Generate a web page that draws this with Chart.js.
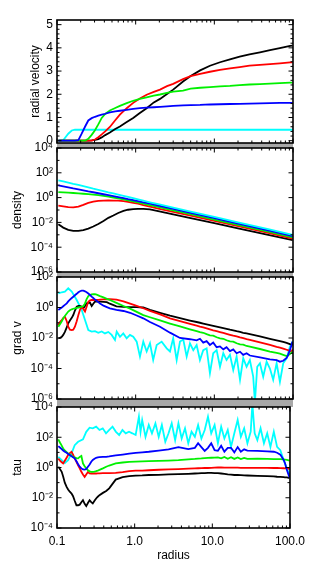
<!DOCTYPE html>
<html>
<head>
<meta charset="utf-8">
<script src="https://cdn.jsdelivr.net/npm/chart.js@4.4.1/dist/chart.umd.min.js"></script>
<style>
  body { margin: 0; background: #fff; }
  #wrap { position: relative; width: 311px; height: 568px; }
  canvas { position: absolute; left: 0; }
</style>
</head>
<body>
<div id="wrap">
  <canvas id="c1" width="311" height="160" style="top:0px"></canvas>
  <canvas id="c2" width="311" height="160" style="top:128px"></canvas>
  <canvas id="c3" width="311" height="160" style="top:257px"></canvas>
  <canvas id="c4" width="311" height="181" style="top:387px"></canvas>
</div>
<script>
// ---- data ----

// radial velocity panel
var velR = [0.104, 0.12, 0.139, 0.154, 0.169, 0.187, 0.206, 0.227, 0.25, 0.276,
  0.304, 0.335, 0.37, 0.41, 0.47, 0.55, 0.63, 0.77, 0.93, 1.13,
  1.38, 1.7, 2.04, 2.5, 3.0, 4.0, 5.0, 6.6, 8.8, 11.8,
  15.8, 21, 28, 38, 51, 68, 92, 99];
var velBlack = [0, 0, 0, 0, 0, 0, 0, 0, 0, 0.01,
  0.03, 0.07, 0.14, 0.24, 0.35, 0.5, 0.61, 0.8, 0.98, 1.19,
  1.4, 1.65, 1.8, 2.01, 2.2, 2.55, 2.79, 3.03, 3.23, 3.38,
  3.5, 3.62, 3.72, 3.81, 3.9, 3.99, 4.08, 4.1];
var velRed = [0, 0, 0, 0, 0, 0, 0, 0, 0, 0,
  0.05, 0.15, 0.27, 0.4, 0.59, 0.88, 1.12, 1.4, 1.63, 1.82,
  1.98, 2.1, 2.2, 2.35, 2.45, 2.65, 2.78, 2.88, 2.97, 3.05,
  3.12, 3.17, 3.23, 3.27, 3.3, 3.33, 3.37, 3.37];
var velGreen = [0, 0, 0, 0, 0, 0, 0, 0, 0.08, 0.25,
  0.45, 0.7, 0.98, 1.15, 1.3, 1.41, 1.5, 1.62, 1.72, 1.8,
  1.87, 1.94, 1.99, 2.06, 2.11, 2.16, 2.24, 2.28, 2.31, 2.34,
  2.36, 2.39, 2.42, 2.44, 2.46, 2.48, 2.5, 2.5];
var velBlue = [0, 0, 0, 0, 0, 0.02, 0.3, 0.6, 0.87, 0.97,
  1.03, 1.08, 1.12, 1.16, 1.22, 1.26, 1.29, 1.33, 1.37, 1.4,
  1.42, 1.44, 1.46, 1.48, 1.5, 1.52, 1.53, 1.54, 1.56, 1.57,
  1.58, 1.59, 1.6, 1.61, 1.62, 1.63, 1.63, 1.63];
var velCyan = [0, 0.02, 0.3, 0.44, 0.48, 0.47, 0.47, 0.47, 0.47, 0.47,
  0.47, 0.47, 0.47, 0.47, 0.47, 0.47, 0.47, 0.47, 0.47, 0.47,
  0.47, 0.47, 0.47, 0.47, 0.47, 0.47, 0.47, 0.47, 0.47, 0.47,
  0.47, 0.47, 0.47, 0.47, 0.47, 0.47, 0.47, 0.47];

// density panel
var densR = [0.104, 0.12, 0.139, 0.161, 0.187, 0.216, 0.25, 0.289, 0.335, 0.39,
  0.45, 0.52, 0.6, 0.7, 0.8, 0.93, 1.07, 1.25, 1.52, 2,
  3, 5, 10, 20, 50, 99];
var densBlack = [0.0071, 0.0038, 0.0025, 0.0021, 0.0021, 0.0024, 0.0032, 0.0047, 0.0074, 0.0132,
  0.0234, 0.0363, 0.0575, 0.085, 0.105, 0.117, 0.123, 0.123, 0.112, 0.079,
  0.045, 0.0224, 0.0087, 0.0033, 0.00095, 0.00037];
var densRed = [0.23, 0.2, 0.17, 0.162, 0.19, 0.26, 0.37, 0.48, 0.55, 0.58,
  0.59, 0.58, 0.56, 0.51, 0.45, 0.38, 0.32, 0.25, 0.186, 0.126,
  0.071, 0.035, 0.0132, 0.005, 0.00135, 0.0005];
var densGreen = [2.75, 2.63, 2.51, 2.34, 2.19, 2.04, 1.91, 1.74, 1.58, 1.38,
  1.2, 1.02, 0.87, 0.72, 0.6, 0.5, 0.41, 0.33, 0.25, 0.17,
  0.095, 0.046, 0.017, 0.0063, 0.0017, 0.00063];
var densBlue = [9.8, 8.1, 6.8, 5.6, 4.7, 3.9, 3.2, 2.7, 2.24, 1.86,
  1.55, 1.29, 1.07, 0.89, 0.74, 0.62, 0.51, 0.42, 0.32, 0.22,
  0.123, 0.059, 0.0219, 0.0081, 0.0022, 0.00079];
var densCyan = [25, 20.4, 16.2, 12.9, 10.5, 8.3, 6.6, 5.25, 4.27, 3.39,
  2.69, 2.19, 1.74, 1.38, 1.12, 0.89, 0.71, 0.56, 0.42, 0.28,
  0.155, 0.074, 0.0275, 0.0102, 0.0027, 0.001];

// shared radius grid of the grad v and tau panels
var gridR = [0.104, 0.109, 0.115, 0.12, 0.126, 0.133, 0.139, 0.146, 0.154, 0.161,
  0.169, 0.178, 0.187, 0.196, 0.206, 0.216, 0.227, 0.238, 0.25, 0.263,
  0.276, 0.289, 0.304, 0.319, 0.335, 0.352, 0.39, 0.43, 0.47, 0.57,
  0.7, 0.85, 1.03, 1.25, 1.52, 2.04, 2.73, 3.66, 4.9, 5.96,
  6.56, 7.23, 7.98, 8.79, 9.68, 10.7, 11.8, 13.0, 14.3, 15.8,
  17.4, 19.2, 21.2, 23.3, 25.7, 28.3, 38, 50.9, 61.9, 68.2,
  75.1, 82.9, 86.1, 91.3, 96, 98.8];

// grad v panel
var gradBlack = [9.5e-3, 1.0e-2, 1.2e-2, 1.6e-2, 2.5e-2, 5.0e-2, 9.1e-2, 0.14, 0.21, 0.32,
  0.63, 1.12, 1.26, 1.26, 1.0, 0.89, 1.26, 1.86, 2.0, 2.04,
  1.26, 1.78, 2.4, 2.5, 2.4, 2.4, 2.34, 2.24, 1.78, 1.2,
  1.1, 1.07, 1.05, 1.0, 0.71, 0.45, 0.29, 0.2, 0.14, 0.112,
  0.1, 0.089, 0.079, 0.071, 0.063, 0.056, 0.05, 0.045, 0.04, 0.035,
  0.032, 0.028, 0.025, 0.022, 0.02, 0.018, 0.0126, 0.0089, 0.0071, 0.0063,
  0.0055, 0.0048, 0.0045, 0.004, 0.0035, 0.005];
var gradRed = [0.071, 0.112, 0.15, 0.2, 0.25, 0.126, 0.055, 0.035, 0.033, 0.035,
  0.055, 0.126, 0.32, 0.71, 1.12, 0.79, 0.54, 1.12, 2.4, 2.9,
  3.1, 3.16, 3.1, 3.1, 3.16, 3.24, 3.4, 3.47, 3.55, 3.31,
  2.51, 1.78, 1.26, 0.89, 0.6, 0.35, 0.195, 0.129, 0.085, 0.065,
  0.056, 0.049, 0.043, 0.037, 0.032, 0.028, 0.0245, 0.0214, 0.0186, 0.0162,
  0.0141, 0.0126, 0.011, 0.0098, 0.0085, 0.0076, 0.0051, 0.0035, 0.0026, 0.0023,
  0.002, 0.0017, 0.0016, 0.0014, 0.0013, 0.0018];
var gradGreen = [0.055, 0.079, 0.126, 0.195, 0.28, 0.4, 0.54, 0.66, 0.76, 0.83,
  0.89, 0.95, 1.0, 1.07, 1.12, 1.26, 1.86, 3.55, 5.6, 6.6,
  7.2, 7.6, 7.4, 6.9, 6.3, 5.6, 4.6, 3.7, 3.1, 2.0,
  1.26, 0.85, 0.52, 0.32, 0.23, 0.141, 0.089, 0.058, 0.037, 0.028,
  0.024, 0.022, 0.018, 0.015, 0.0141, 0.0112, 0.0095, 0.0089, 0.0071, 0.006,
  0.0058, 0.0045, 0.0038, 0.0037, 0.003, 0.0027, 0.0019, 0.0013, 0.00105, 0.00093,
  0.00079, 0.00066, 0.00071, 0.00089, 0.0011, 0.00126];
var gradBlue = [0.69, 0.83, 1.0, 1.2, 1.48, 1.86, 2.5, 3.3, 4.2, 5.1,
  6.3, 7.9, 10, 11.7, 12.6, 12.6, 11.5, 10, 8.3, 6.6,
  5.2, 4.2, 3.3, 2.75, 2.24, 1.86, 1.32, 1.07, 0.89, 0.71,
  0.59, 0.45, 0.3, 0.195, 0.112, 0.055, 0.0224, 0.01, 0.0083, 0.0071,
  0.0089, 0.005, 0.0063, 0.0035, 0.005, 0.0025, 0.0028, 0.0018, 0.0025, 0.0014,
  0.0018, 0.001, 0.00126, 0.00079, 0.001, 0.00071, 0.00054, 0.0004, 0.00035, 0.00028,
  0.00032, 0.0005, 0.00071, 0.0016, 0.0035, 0.0058];
var gradCyanR = [0.104, 0.115, 0.126, 0.139, 0.154, 0.178, 0.206, 0.227, 0.25, 0.276,
  0.304, 0.335, 0.37, 0.407, 0.449, 0.495, 0.546, 0.574, 0.632, 0.696,
  0.768, 0.846, 0.932, 1.03, 1.134, 1.25, 1.38, 1.52, 1.67, 1.85,
  2.14, 2.48, 2.73, 3.0, 3.32, 3.66, 4.03, 4.45, 4.9, 5.4,
  5.96, 6.56, 7.23, 7.98, 8.79, 9.68, 10.7, 11.8, 13.0, 14.3,
  15.8, 17.4, 19.2, 21.2, 23.3, 25.7, 28.3, 31.2, 32.8, 35.1,
  38.0, 41.8, 46.2, 50.9, 56.0, 61.9, 68.2, 75.1, 82.9, 91.3,
  98.8];
var gradCyan = [8.5, 10, 11, 18, 11, 3.1, 0.69, 0.15, 0.033, 0.026,
  0.028, 0.022, 0.027, 0.02, 0.025, 0.016, 0.0074, 0.026, 0.012, 0.02,
  0.0095, 0.016, 0.012, 0.0058, 0.0006, 0.0058, 0.0013, 0.0045, 0.00036, 0.0035,
  0.0058, 0.0021, 0.0013, 0.0095, 0.00036, 0.0058, 0.0079, 0.0006, 0.0045, 0.0016,
  0.0035, 0.00036, 0.0016, 0.0021, 4.9e-5, 0.001, 0.0016, 0.00013, 0.001, 0.00036,
  0.0008, 8e-5, 0.0006, 1.8e-5, 0.00047, 0.00013, 0.00036, 2.9e-5, 6.3e-7, 0.00013,
  0.00022, 2.9e-5, 0.00028, 0.0001, 1.8e-5, 0.00022, 1.35e-5, 0.00022, 0.00047, 0.0027,
  0.0058];

// tau panel
var tauBlack = [1.12, 0.79, 0.52, 0.25, 0.1, 0.052, 0.035, 0.025, 0.019, 0.0126,
  0.0063, 0.0032, 0.0032, 0.0035, 0.005, 0.0069, 0.004, 0.0028, 0.0045, 0.0069,
  0.0052, 0.0042, 0.0063, 0.0089, 0.0117, 0.0148, 0.021, 0.028, 0.042, 0.158,
  0.23, 0.27, 0.29, 0.3, 0.32, 0.33, 0.35, 0.36, 0.38, 0.4,
  0.41, 0.42, 0.43, 0.44, 0.44, 0.43, 0.42, 0.4, 0.38, 0.355,
  0.34, 0.32, 0.32, 0.31, 0.3, 0.295, 0.28, 0.27, 0.26, 0.245,
  0.24, 0.23, 0.224, 0.22, 0.21, 0.2];
var tauRed = [3.98, 2.82, 2.24, 1.86, 2.82, 4.47, 6.6, 8.9, 11, 7.1,
  3.98, 2.4, 1.41, 0.89, 0.52, 0.35, 0.24, 0.35, 0.5, 0.41,
  0.4, 0.4, 0.4, 0.4, 0.41, 0.41, 0.42, 0.43, 0.43, 0.44,
  0.5, 0.58, 0.62, 0.63, 0.66, 0.71, 0.76, 0.79, 0.83, 0.87,
  0.89, 0.91, 0.93, 0.93, 0.95, 0.98, 1.0, 1.0, 0.98, 0.98,
  0.98, 0.98, 0.98, 0.95, 0.95, 0.95, 0.95, 0.95, 0.93, 0.93,
  0.91, 0.89, 0.87, 0.87, 0.83, 0.79];
var tauGreen = [72, 45, 28, 18, 13.2, 10.5, 8.5, 7.1, 6.0, 5.1,
  4.6, 4.2, 4.0, 5.0, 5.8, 1.86, 1.2, 0.87, 0.66, 0.56,
  0.52, 0.51, 0.54, 0.58, 0.63, 0.69, 0.87, 1.12, 1.35, 1.86,
  2.14, 2.34, 2.45, 2.57, 2.63, 2.75, 2.88, 3.1, 3.47, 3.7,
  3.9, 4.0, 4.2, 4.3, 4.4, 4.5, 4.6, 4.0, 5.0, 3.8,
  4.8, 3.7, 4.6, 3.6, 4.3, 3.7, 3.8, 3.7, 3.6, 3.6,
  3.55, 3.4, 3.3, 3.16, 3.0, 2.8];
var tauBlue = [26, 21, 16.6, 13.2, 11, 9.3, 7.9, 6.6, 5.6, 4.8,
  4.0, 2.6, 1.66, 1.12, 0.87, 0.74, 0.72, 0.79, 1.12, 1.58,
  2.4, 3.16, 3.8, 4.4, 4.7, 4.9, 5.0, 5.1, 5.4, 6.3,
  7.2, 8.3, 9.3, 10, 11, 13.2, 15.8, 22.4, 16.6, 20,
  40, 22.4, 12.6, 20, 40, 14.1, 12.6, 27.5, 11.2, 20,
  20, 10, 22.4, 11, 15.8, 13.2, 12.6, 11.5, 11, 9.5,
  7.1, 3.16, 2.0, 0.68, 0.32, 0.22];
var tauCyanR = [0.104, 0.115, 0.126, 0.139, 0.154, 0.169, 0.187, 0.216, 0.238, 0.263,
  0.289, 0.319, 0.352, 0.388, 0.428, 0.471, 0.519, 0.574, 0.632, 0.696,
  0.768, 0.846, 0.932, 1.03, 1.134, 1.19, 1.25, 1.38, 1.52, 1.67,
  1.85, 2.04, 2.24, 2.48, 2.73, 3.0, 3.32, 3.66, 4.03, 4.45,
  4.9, 5.4, 5.96, 6.56, 7.23, 7.98, 8.79, 9.68, 10.7, 11.8,
  13.0, 14.3, 15.8, 17.4, 19.2, 21.2, 23.3, 25.7, 28.3, 31.2,
  32.8, 35.1, 38.0, 41.8, 46.2, 50.9, 56.0, 61.9, 68.2, 75.1,
  82.9, 91.3, 98.8];
var tauCyan = [5.1, 3.1, 2.0, 3.1, 8.5, 30, 50, 72, 229, 427,
  389, 501, 302, 389, 182, 302, 501, 229, 141, 302,
  182, 229, 182, 141, 2291, 229, 1380, 107, 646, 182,
  832, 107, 646, 50, 182, 832, 65, 832, 83, 389,
  40, 234, 107, 646, 83, 302, 2291, 182, 646, 40,
  501, 83, 302, 23, 182, 1380, 107, 389, 40, 234,
  15800, 182, 65, 389, 40, 182, 23, 234, 23, 14,
  3.1, 0.87, 0.32];

// axis ticks
var radiusTicks = [0.1, 1, 10, 100];
var velTicks = [0, 1, 2, 3, 4, 5];
var densTicks = [1e-6, 1e-4, 1e-2, 1, 1e2, 1e4];
var gradTicks = [1e-6, 1e-4, 1e-2, 1, 1e2];
var tauTicks = [1e-4, 1e-2, 1, 1e2, 1e4];

// ---- drawing ----
var FONT = "'Liberation Sans', Arial, Helvetica, sans-serif";
var SUP = { "-": "\u207B", "0": "\u2070", "1": "\u00B9", "2": "\u00B2", "3": "\u00B3",
  "4": "\u2074", "5": "\u2075", "6": "\u2076", "7": "\u2077", "8": "\u2078", "9": "\u2079" };

function expLabel(v) {
  var e = String(Math.round(Math.log10(v)));
  return "10" + e.split("").map(function (c) { return SUP[c]; }).join("");
}

function pairs(xs, ys) {
  return xs.map(function (x, i) { return { x: x, y: ys[i] }; });
}

function line(xs, ys, color) {
  return {
    data: pairs(xs, ys),
    borderColor: color,
    borderWidth: 1.8,
    pointRadius: 0,
    tension: 0,
    fill: false,
    clip: 0,
  };
}

// minor tick values on the log radius axis
var radiusMinor = [];
[0.1, 1, 10].forEach(function (d) {
  for (var k = 2; k <= 9; k++) radiusMinor.push(d * k);
});

// frame with inward ticks on all four sides
var framePlugin = {
  id: "frame",
  afterDraw: function (chart, args, opts) {
    var ctx = chart.ctx, a = chart.chartArea;
    var x = chart.scales.x, y = chart.scales.y;
    ctx.save();
    if (opts.gap) {
      ctx.fillStyle = "#a8a8a8";
      ctx.fillRect(a.left, a.bottom, a.right - a.left, opts.gap);
    }
    ctx.strokeStyle = "#000";
    ctx.lineWidth = 1;
    ctx.beginPath();
    function xt(v, len) {
      var p = x.getPixelForValue(v);
      ctx.moveTo(p, a.bottom); ctx.lineTo(p, a.bottom - len);
      ctx.moveTo(p, a.top); ctx.lineTo(p, a.top + len);
    }
    function yt(v, len) {
      var p = y.getPixelForValue(v);
      ctx.moveTo(a.left, p); ctx.lineTo(a.left + len, p);
      ctx.moveTo(a.right, p); ctx.lineTo(a.right - len, p);
    }
    radiusTicks.forEach(function (v) { xt(v, 4.5); });
    radiusMinor.forEach(function (v) { xt(v, 2.5); });
    opts.yMajor.forEach(function (v) { yt(v, 4.5); });
    opts.yMinor.forEach(function (v) { yt(v, 2.5); });
    ctx.stroke();
    ctx.lineWidth = 1.6;
    ctx.strokeRect(a.left, a.top, a.right - a.left, a.bottom - a.top);
    ctx.restore();
  }
};

function panel(id, datasets, yCfg, bottom) {
  var xAxis = {
    type: "logarithmic",
    min: 0.1,
    max: 100,
    display: bottom,
    grid: { display: false, drawTicks: false },
    border: { display: false },
    afterBuildTicks: function (s) {
      s.ticks = radiusTicks.map(function (v) { return { value: v }; });
    },
    ticks: {
      color: "#000",
      font: { family: FONT, size: 12 },
      padding: 6,
      maxRotation: 0,
      autoSkip: false,
      callback: function (v) { return Number(v).toFixed(1); }
    },
    title: {
      display: bottom,
      text: "radius",
      color: "#000",
      font: { family: FONT, size: 12 },
      padding: { top: 0, bottom: 5 }
    }
  };
  if (bottom) xAxis.afterFit = function (s) { s.height = 40; };

  var yAxis = {
    type: yCfg.type,
    min: yCfg.min,
    max: yCfg.max,
    grid: { display: false, drawTicks: false },
    border: { display: false },
    afterFit: function (s) { s.width = 57; },
    afterBuildTicks: function (s) {
      s.ticks = yCfg.ticks.map(function (v) { return { value: v }; });
    },
    ticks: {
      color: "#000",
      font: { family: FONT, size: 12 },
      padding: 4,
      autoSkip: false,
      callback: yCfg.label
    },
    title: {
      display: true,
      text: yCfg.title,
      color: "#000",
      font: { family: FONT, size: 12 },
      padding: { top: yCfg.titlePad, bottom: 0 }
    }
  };

  return new Chart(document.getElementById(id), {
    type: "line",
    data: { datasets: datasets },
    options: {
      responsive: false,
      animation: false,
      layout: { padding: { left: 0, right: 18, top: 20, bottom: yCfg.padBottom } },
      plugins: {
        legend: { display: false },
        tooltip: { enabled: false },
        frame: { yMajor: yCfg.ticks, yMinor: yCfg.minor, gap: yCfg.gap }
      },
      scales: { x: xAxis, y: yAxis }
    },
    plugins: [framePlugin]
  });
}

var BLACK = "#000000", RED = "#ff0000", GREEN = "#00f000", BLUE = "#0000ff", CYAN = "#00ffff";

var velMinor = [];
for (var i = 0; i <= 25; i++) if (i % 5) velMinor.push(i / 5);

// Radial velocity
panel("c1", [
  line(velR, velBlue, BLUE),
  line(velR, velGreen, GREEN),
  line(velR, velRed, RED),
  line(velR, velBlack, BLACK),
  line(velR, velCyan, CYAN)
], {
  type: "linear", min: -0.1, max: 5.2, ticks: velTicks, minor: velMinor,
  title: "radial velocity", titlePad: 28, padBottom: 17, gap: 5,
  label: function (v) { return String(v); }
}, false);

// Density
panel("c2", [
  line(densR, densCyan, CYAN),
  line(densR, densBlue, BLUE),
  line(densR, densGreen, GREEN),
  line(densR, densRed, RED),
  line(densR, densBlack, BLACK)
], {
  type: "logarithmic", min: 1e-6, max: 1e4, ticks: densTicks,
  minor: [1e-5, 1e-3, 1e-1, 10, 1e3],
  title: "density", titlePad: 10, padBottom: 16, gap: 5,
  label: expLabel
}, false);

// grad v
panel("c3", [
  line(gridR, gradBlue, BLUE),
  line(gridR, gradGreen, GREEN),
  line(gridR, gradRed, RED),
  line(gridR, gradBlack, BLACK),
  line(gradCyanR, gradCyan, CYAN)
], {
  type: "logarithmic", min: 1e-6, max: 1e2, ticks: gradTicks,
  minor: [1e-5, 1e-3, 1e-1, 10],
  title: "grad v", titlePad: 10, padBottom: 18, gap: 8,
  label: expLabel
}, false);

// tau
panel("c4", [
  line(gridR, tauBlue, BLUE),
  line(gridR, tauGreen, GREEN),
  line(gridR, tauRed, RED),
  line(gridR, tauBlack, BLACK),
  line(tauCyanR, tauCyan, CYAN)
], {
  type: "logarithmic", min: 1e-4, max: 1e4, ticks: tauTicks,
  minor: [1e-3, 1e-1, 10, 1e3],
  title: "tau", titlePad: 10, padBottom: 0, gap: 0,
  label: expLabel
}, true);
</script>
</body>
</html>
